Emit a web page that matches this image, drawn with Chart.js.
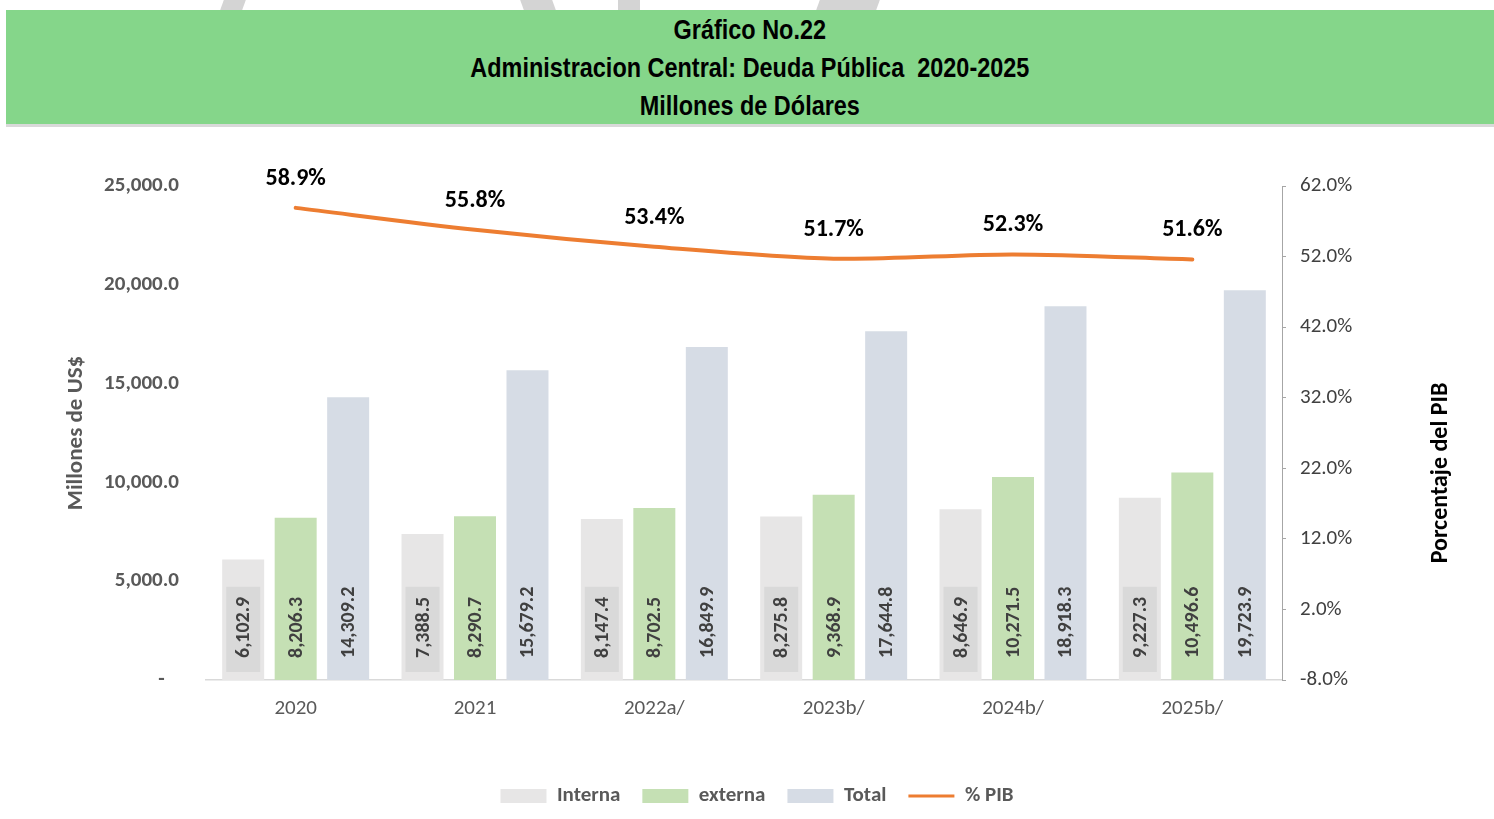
<!DOCTYPE html>
<html>
<head>
<meta charset="utf-8">
<script src="https://cdn.jsdelivr.net/npm/chart.js@4.4.1/dist/chart.umd.min.js"></script>
<style>
  html, body { margin: 0; padding: 0; background: #ffffff; width: 1494px; height: 819px; overflow: hidden; }
  #banner {
    position: absolute; left: 6px; top: 10px; width: 1488px; height: 114px;
    background: #85D68A; border-bottom: 3px solid #D9D9D9;
    font-family: "Liberation Sans", Arial, sans-serif;
    font-weight: bold; font-size: 27px; color: #000; text-align: center;
  }
  #banner div { position: absolute; left: 0; right: 0; line-height: 30px; text-align: center; }
  #banner span { display: inline-block; white-space: nowrap; transform-origin: 50% 50%; }
  #wrap { position: absolute; left: 0; top: 0; width: 1494px; height: 819px; }
  .wm { position: absolute; top: 0; height: 10px; background: #D4D4D4; }
</style>
</head>
<body>
<div class="wm" style="left:222px;width:22px;transform:skewX(-20deg);"></div>
<div class="wm" style="left:522px;width:32px;transform:skewX(20deg);"></div>
<div class="wm" style="left:618px;width:22px;"></div>
<div class="wm" style="left:818px;width:60px;transform:skewX(-20deg);"></div>
<div id="banner">
  <div style="top:5px;"><span>Gráfico No.22</span></div>
  <div style="top:43px;"><span id="t2">Administracion Central: Deuda Pública&nbsp; 2020-2025</span></div>
  <div style="top:81px;"><span>Millones de Dólares</span></div>
</div>
<div id="wrap"><canvas id="c" width="1494" height="819"></canvas></div>
<script>
const categories = ['2020', '2021', '2022a/', '2023b/', '2024b/', '2025b/'];
const interna = [6102.9, 7388.5, 8147.4, 8275.8, 8646.9, 9227.3];
const externa = [8206.3, 8290.7, 8702.5, 9368.9, 10271.5, 10496.6];
const total = [14309.2, 15679.2, 16849.9, 17644.8, 18918.3, 19723.9];
const pctPIB = [58.9, 55.8, 53.4, 51.7, 52.3, 51.6];
const seriesNames = ['Interna', 'externa', 'Total', '% PIB'];
const rightAxisTitle = 'Porcentaje del PIB';

// condense the banner title (Arial Narrow look)
(function () {
  const t2 = document.getElementById('t2');
  const w = t2.getBoundingClientRect().width;
  const sx = 559 / w;
  document.querySelectorAll('#banner span').forEach(s => { s.style.transform = 'scaleX(' + sx + ')'; });
})();

const FONT = 'Carlito, Lato, "Open Sans", sans-serif';
const fmt1 = v => v.toLocaleString('en-US', {minimumFractionDigits: 1, maximumFractionDigits: 1});

const labelPlugin = {
  id: 'labelPlugin',
  afterDatasetsDraw(chart) {
    const ctx = chart.ctx;
    const yScale = chart.scales.y;
    const base = yScale.getPixelForValue(0);
    [0, 1, 2].forEach(di => {
      const meta = chart.getDatasetMeta(di);
      const data = chart.data.datasets[di].data;
      meta.data.forEach((el, i) => {
        const txt = fmt1(data[i]);
        ctx.save();
        ctx.font = 'bold 20px ' + FONT;
        const tw = ctx.measureText(txt).width;
        ctx.translate(el.x, base - 22);
        ctx.rotate(-Math.PI / 2);
        if (di === 0) {
          ctx.fillStyle = '#D9D9D9';
          ctx.fillRect(-14, -17, tw + 24, 34);
        }
        ctx.fillStyle = '#404040';
        ctx.textAlign = 'left';
        ctx.textBaseline = 'middle';
        ctx.fillText(txt, 0, 1);
        ctx.restore();
      });
    });
    const lmeta = chart.getDatasetMeta(3);
    const ldata = chart.data.datasets[3].data;
    lmeta.data.forEach((pt, i) => {
      ctx.save();
      ctx.font = 'bold 24px ' + FONT;
      ctx.fillStyle = '#000000';
      ctx.textAlign = 'center';
      ctx.textBaseline = 'middle';
      ctx.fillText(ldata[i].toFixed(1) + '%', pt.x, pt.y - 29);
      ctx.restore();
    });
    // right axis title, reading bottom-to-top
    const ca = chart.chartArea;
    ctx.save();
    ctx.font = 'bold 24px ' + FONT;
    ctx.fillStyle = '#000000';
    ctx.textAlign = 'center';
    ctx.textBaseline = 'middle';
    ctx.translate(chart.scales.y1.right - 15, (ca.top + ca.bottom) / 2 + 40);
    ctx.rotate(-Math.PI / 2);
    ctx.fillText(rightAxisTitle, 0, 0);
    ctx.restore();
  }
};

new Chart(document.getElementById('c'), {
  data: {
    labels: categories,
    datasets: [
      { type: 'bar', label: seriesNames[0], data: interna, backgroundColor: '#E7E6E6', yAxisID: 'y', order: 2,
        barPercentage: 0.8, categoryPercentage: 0.878 },
      { type: 'bar', label: seriesNames[1], data: externa, backgroundColor: '#C5E0B4', yAxisID: 'y', order: 2,
        barPercentage: 0.8, categoryPercentage: 0.878 },
      { type: 'bar', label: seriesNames[2], data: total, backgroundColor: '#D6DCE5', yAxisID: 'y', order: 2,
        barPercentage: 0.8, categoryPercentage: 0.878 },
      { type: 'line', label: seriesNames[3], data: pctPIB, borderColor: '#ED7D31', backgroundColor: '#ED7D31',
        borderWidth: 4, pointRadius: 0, tension: 0.3, yAxisID: 'y1', order: 1, borderCapStyle: 'round' }
    ]
  },
  options: {
    responsive: false,
    animation: false,
    layout: { padding: { left: 58, right: 38, top: 186, bottom: 2.5 } },
    plugins: {
      tooltip: { enabled: false },
      legend: {
        position: 'bottom',
        labels: {
          usePointStyle: true,
          pointStyleWidth: 46,
          boxHeight: 14,
          padding: 22,
          color: '#595959',
          font: { family: FONT, size: 21, weight: 'bold' },
          generateLabels(chart) {
            return chart.data.datasets.map((ds, i) => ({
              text: ds.label,
              fillStyle: ds.backgroundColor,
              strokeStyle: ds.type === 'line' ? ds.borderColor : ds.backgroundColor,
              lineWidth: ds.type === 'line' ? 3 : 0,
              pointStyle: ds.type === 'line' ? 'line' : 'rect',
              datasetIndex: i,
              hidden: false,
              fontColor: '#595959'
            }));
          }
        }
      }
    },
    scales: {
      x: {
        offset: true,
        grid: { display: false, drawTicks: false },
        border: { display: true, color: '#D9D9D9', width: 1.5 },
        ticks: { padding: 16, color: '#595959', font: { family: FONT, size: 21 } },
        afterFit(s) { s.height = 83.5; }
      },
      y: {
        position: 'left',
        min: 0, max: 25000,
        grid: { display: false, drawTicks: false },
        border: { display: false },
        ticks: {
          stepSize: 5000, padding: 27, color: '#595959',
          font: { family: FONT, size: 21, weight: 'bold' },
          callback: v => v === 0 ? '-   ' : fmt1(v)
        },
        title: { display: true, text: 'Millones de US$', color: '#595959', padding: 4,
          font: { family: FONT, size: 23, weight: 'bold' } },
        afterFit(s) { s.width = 148; }
      },
      y1: {
        position: 'right',
        min: -8, max: 62,
        grid: { display: true, drawOnChartArea: false, drawTicks: true, tickLength: 4, color: '#A6A6A6' },
        border: { display: true, color: '#A6A6A6', width: 1 },
        ticks: {
          stepSize: 10, padding: 14, color: '#404040',
          font: { family: FONT, size: 21 },
          callback: v => v.toFixed(1) + '%'
        },
        title: { display: false },
        afterFit(s) { s.width = 174; }
      }
    }
  },
  plugins: [labelPlugin]
});
</script>
</body>
</html>
